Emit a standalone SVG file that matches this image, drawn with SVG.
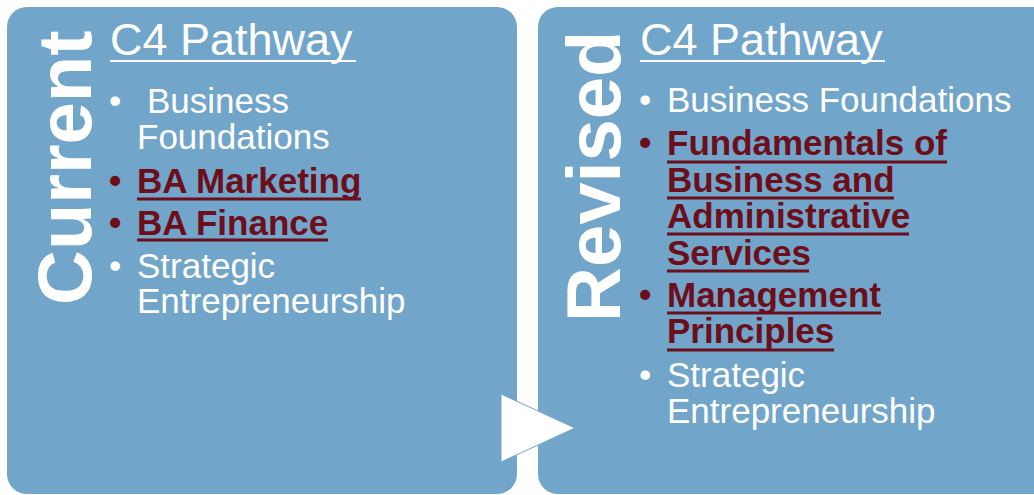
<svg xmlns="http://www.w3.org/2000/svg" width="1034" height="495" viewBox="0 0 1034 495">
<style>
.box{fill:#72A5CA}
.t{font-family:"Liberation Sans",Arial,sans-serif;font-size:35px;fill:#FFFFFF}
.b{font-weight:bold;fill:#6D0E1B}
.h{font-size:45px}
.v{font-family:"Liberation Sans",Arial,sans-serif;font-size:76px;font-weight:bold;fill:#FFFFFF}
.uw{stroke:#FFFFFF;stroke-width:2}
.ur{stroke:#6D0E1B;stroke-width:3}
</style>
<rect width="1034" height="495" fill="#FFFFFF"/>
<g id="current">
<rect class="box" x="7" y="7" width="510" height="487" rx="20"/>
<text class="v" transform="translate(91,305) rotate(-90)">Current</text>
<text class="t h" x="110" y="55">C4 Pathway</text>
<line class="uw" x1="110" y1="61" x2="356" y2="61"/>
<text class="t" x="109" y="113">•</text>
<text class="t" x="147" y="113">Business</text>
<text class="t" x="137" y="149">Foundations</text>
<text class="t b" x="109" y="193">•</text>
<text class="t b" x="137" y="193">BA Marketing</text>
<line class="ur" x1="137" y1="199" x2="361" y2="199"/>
<text class="t b" x="109" y="235">•</text>
<text class="t b" x="137" y="235">BA Finance</text>
<line class="ur" x1="137" y1="240" x2="328" y2="240"/>
<text class="t" x="109" y="278">•</text>
<text class="t" x="137" y="278">Strategic</text>
<text class="t" x="137" y="313">Entrepreneurship</text>
</g>
<g id="revised">
<rect class="box" x="538" y="7" width="520" height="487" rx="20"/>
<text class="v" transform="translate(620,322) rotate(-90)">Revised</text>
<text class="t h" x="640" y="55">C4 Pathway</text>
<line class="uw" x1="640" y1="61" x2="885" y2="61"/>
<text class="t" x="639" y="112">•</text>
<text class="t" x="667" y="112">Business Foundations</text>
<text class="t b" x="639" y="155">•</text>
<text class="t b" x="667" y="155">Fundamentals of</text>
<line class="ur" x1="667" y1="162" x2="947" y2="162"/>
<text class="t b" x="667" y="192">Business and</text>
<line class="ur" x1="667" y1="198" x2="894" y2="198"/>
<text class="t b" x="667" y="228">Administrative</text>
<line class="ur" x1="667" y1="234" x2="909" y2="234"/>
<text class="t b" x="667" y="265">Services</text>
<line class="ur" x1="667" y1="271" x2="809" y2="271"/>
<text class="t b" x="639" y="307">•</text>
<text class="t b" x="667" y="307">Management</text>
<line class="ur" x1="667" y1="313" x2="881" y2="313"/>
<text class="t b" x="667" y="343">Principles</text>
<line class="ur" x1="667" y1="350" x2="834" y2="350"/>
<text class="t" x="639" y="387">•</text>
<text class="t" x="667" y="387">Strategic</text>
<text class="t" x="667" y="423">Entrepreneurship</text>
</g>
<g id="connectors">
<polygon points="501,394 575,428 501,462" fill="#FFFFFF" stroke="#72A5CA" stroke-width="1"/>
</g>
</svg>
